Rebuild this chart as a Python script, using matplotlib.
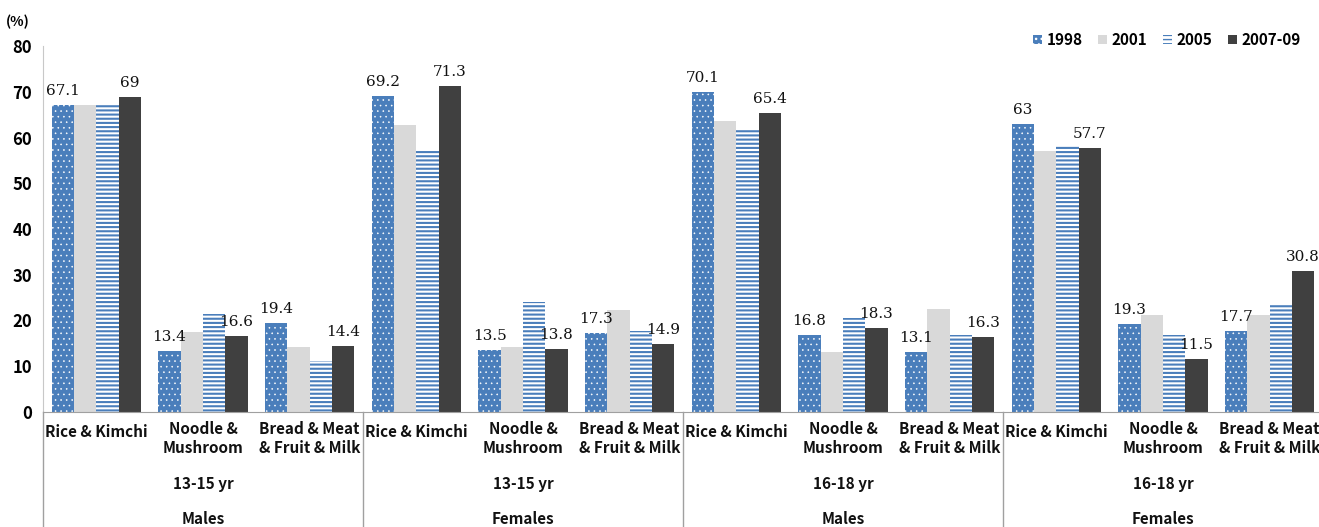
import numpy as np
import matplotlib
matplotlib.use("Agg")
import matplotlib.pyplot as plt
import matplotlib.transforms as mtransforms
from matplotlib.lines import Line2D

# Food pattern shares by survey year, sex and age group
years = ["1998", "2001", "2005", "2007-09"]
foods = ["Rice & Kimchi", "Noodle &\nMushroom", "Bread & Meat\n& Fruit & Milk"]
ages = ["13-15 yr", "13-15 yr", "16-18 yr", "16-18 yr"]
sexes = ["Males", "Females", "Males", "Females"]

v1998 = [67.1, 13.4, 19.4, 69.2, 13.5, 17.3, 70.1, 16.8, 13.1, 63.0, 19.3, 17.7]
v2001 = [67.1, 17.5, 14.2, 62.7, 14.2, 22.3, 63.7, 13.1, 22.6, 57.0, 21.2, 21.2]
v2005 = [67.1, 21.3, 11.0, 57.2, 24.0, 17.7, 61.7, 20.5, 16.8, 58.1, 16.9, 23.6]
v2009 = [69.0, 16.6, 14.4, 71.3, 13.8, 14.9, 65.4, 18.3, 16.3, 57.7, 11.5, 30.8]

SANS = "Noto Sans CJK KR"

W, H = 1319, 527
fig = plt.figure(figsize=(W / 100, H / 100), dpi=100)
ax = fig.add_axes([43 / W, (H - 411.7) / H, 1280 / W, 365.2 / H])

blue = "#4a7ebb"
series = [
    (v1998, 0.4, dict(facecolor=blue, edgecolor="white", hatch="...", linewidth=0)),
    (v2001, 1.0, dict(facecolor="#d9d9d9", edgecolor="#d9d9d9", linewidth=0)),
    (v2005, 1.5, dict(facecolor="white", edgecolor=blue, hatch="----", linewidth=0)),
    (v2009, 1.0, dict(facecolor="#404040", edgecolor="#404040", linewidth=0)),
]

x = np.arange(len(v1998))
w = 0.209
bars = []
for i, (vals, hlw, style) in enumerate(series):
    with plt.rc_context({"hatch.linewidth": hlw}):
        b = ax.bar(x + (i - 1.5) * w, vals, w, label=years[i], **style)
    bars.append(b)

# value labels only for the first and last survey
for b in (bars[0], bars[3]):
    for rect in b:
        h = rect.get_height()
        ax.annotate(f"{h:g}", (rect.get_x() + rect.get_width() / 2, h),
                    xytext=(0, 5), textcoords="offset points",
                    ha="center", va="bottom", fontsize=11,
                    family="DejaVu Serif", color="#111111")

ax.set_xlim(-0.5, 11.5)
ax.set_ylim(0, 80)
ax.set_yticks(range(0, 81, 10))
ax.set_xticks([])
ax.tick_params(axis="y", length=0, pad=8)
for lab in ax.get_yticklabels():
    lab.set_fontweight("bold")
    lab.set_fontsize(12)
    lab.set_family(SANS)

for s in ("top", "right"):
    ax.spines[s].set_visible(False)
ax.spines["left"].set_color("#c8c8c8")
ax.spines["bottom"].set_color("#a0a0a0")

# category, age and sex labels under the axis
tr = mtransforms.blended_transform_factory(ax.transData, fig.transFigure)
lab_kw = dict(transform=tr, ha="center", va="center", fontsize=11,
              fontweight="bold", family=SANS, color="#111111", linespacing=1.3)
for i in range(len(x)):
    name = foods[i % 3]
    yc = 438.5 if "\n" in name else 432
    fig.text(x[i], (H - yc) / H, name, **lab_kw)
for g in range(4):
    cx = 3 * g + 1
    fig.text(cx, (H - 484) / H, ages[g], **lab_kw)
    fig.text(cx, (H - 519) / H, sexes[g], **lab_kw)

for bx in (-0.5, 2.5, 5.5, 8.5):
    fig.add_artist(Line2D([bx, bx], [0, (H - 411.7) / H], transform=tr,
                          color="#a0a0a0", linewidth=1))

fig.text(6 / W, (H - 22) / H, "(%)", fontsize=10, fontweight="bold",
         family=SANS, va="center", ha="left")

leg = ax.legend(ncol=4, loc="center", bbox_to_anchor=(1167 / W, (H - 40) / H),
                bbox_transform=fig.transFigure, frameon=False,
                handlelength=0.6, handleheight=0.6, handletextpad=0.3,
                columnspacing=1.0, prop=dict(family=SANS, weight="bold", size=11))

fig.savefig("out.png", dpi=100)
